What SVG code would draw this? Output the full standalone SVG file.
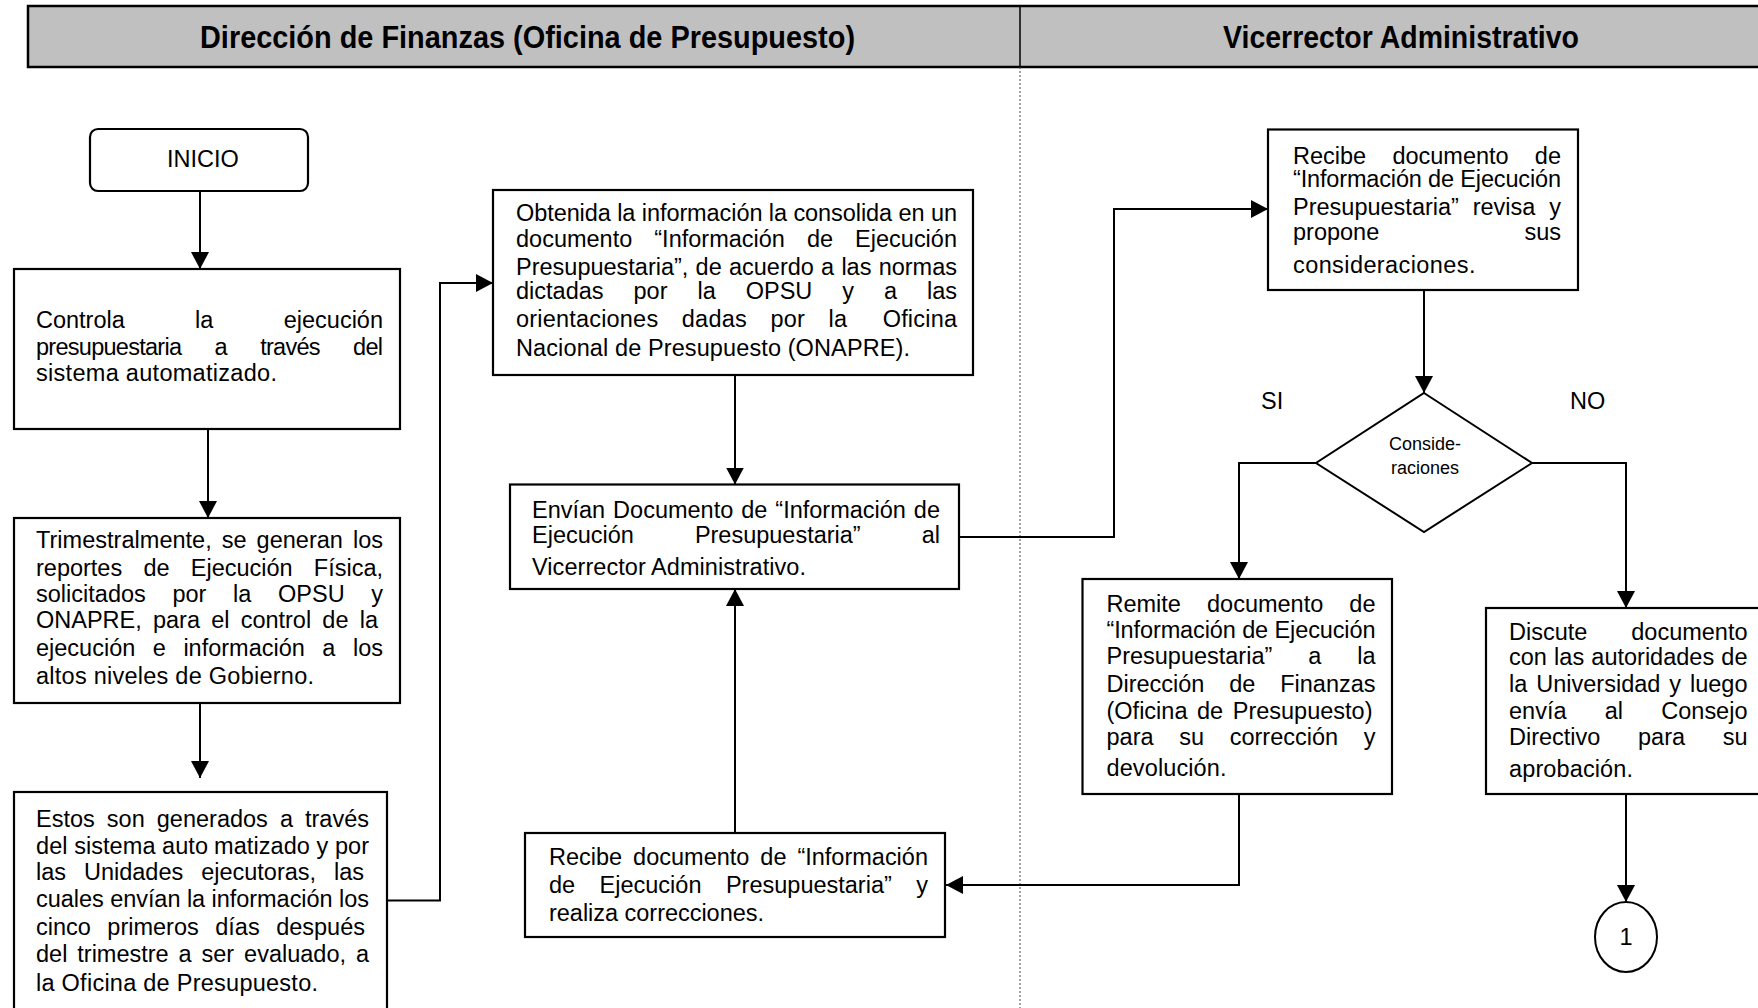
<svg xmlns="http://www.w3.org/2000/svg" width="1758" height="1008" viewBox="0 0 1758 1008">
  <style>
    .box { fill: #ffffff; stroke: #000000; stroke-width: 2.2; }
    .t { font-family: "Liberation Sans", Arial, sans-serif; font-size: 23.5px; fill: #000000; }
    .small { font-family: "Liberation Sans", Arial, sans-serif; font-size: 18px; fill: #000000; }
    .hdr { font-family: "Liberation Sans", Arial, sans-serif; font-size: 31px; font-weight: bold; fill: #000000; }
    .conn { fill: none; stroke: #000000; stroke-width: 2; }
    .lane { stroke: #444444; stroke-width: 1; stroke-dasharray: 2 2; }
  </style>
  <defs>
    <marker id="arr" markerUnits="userSpaceOnUse" markerWidth="17" markerHeight="18" viewBox="0 0 17 18" refX="17" refY="9" orient="auto">
      <path d="M0,0 L17,9 L0,18 z" fill="#000000"/>
    </marker>
  </defs>

  <rect width="1758" height="1008" fill="#ffffff"/>

  <!-- swimlane header -->
  <g id="header">
    <rect x="28" y="6" width="1745" height="61" fill="#c0c0c0" stroke="#000000" stroke-width="2.5"/>
    <line x1="1020" y1="6" x2="1020" y2="67" stroke="#000000" stroke-width="1.5"/>
    <text class="hdr" x="200" y="47.5" textLength="655" lengthAdjust="spacingAndGlyphs">Dirección de Finanzas (Oficina de Presupuesto)</text>
    <text class="hdr" x="1223" y="47.5" textLength="356" lengthAdjust="spacingAndGlyphs">Vicerrector Administrativo</text>
  </g>
  <line class="lane" x1="1020" y1="67" x2="1020" y2="1008"/>

  <!-- connectors -->
  <g id="connectors">
    <path class="conn" d="M200,191 V269" marker-end="url(#arr)"/>
    <path class="conn" d="M208,429 V518" marker-end="url(#arr)"/>
    <path class="conn" d="M200,703 V778" marker-end="url(#arr)"/>
    <path class="conn" d="M387,900.5 H440 V283 H493" marker-end="url(#arr)"/>
    <path class="conn" d="M735,375 V484.5" marker-end="url(#arr)"/>
    <path class="conn" d="M959,537 H1114 V209 H1268" marker-end="url(#arr)"/>
    <path class="conn" d="M1424,290 V393" marker-end="url(#arr)"/>
    <path class="conn" d="M1316,463 H1239 V579" marker-end="url(#arr)"/>
    <path class="conn" d="M1532,463 H1626 V608" marker-end="url(#arr)"/>
    <path class="conn" d="M1239,794 V885 H946" marker-end="url(#arr)"/>
    <path class="conn" d="M735,833 V589" marker-end="url(#arr)"/>
    <path class="conn" d="M1626,794 V902" marker-end="url(#arr)"/>
  </g>

  <!-- Dirección de Finanzas lane -->
  <g id="inicio">
    <rect class="box" x="90" y="129" width="218" height="62" rx="8"/>
    <text class="t" x="203" y="166.5" text-anchor="middle">INICIO</text>
  </g>

  <g id="controla">
    <rect class="box" x="14" y="269" width="386" height="160"/>
    <text class="t" x="36" y="328" textLength="347" lengthAdjust="spacing" word-spacing="63.8">Controla la ejecución</text>
    <text class="t" x="36" y="354.5" textLength="347" lengthAdjust="spacing" word-spacing="27.5">presupuestaria a través del</text>
    <text class="t" x="36" y="381" textLength="241" lengthAdjust="spacing">sistema automatizado.</text>
  </g>

  <g id="trimestral">
    <rect class="box" x="14" y="518" width="386" height="185"/>
    <text class="t" x="36" y="548" textLength="347" lengthAdjust="spacing" word-spacing="3.4">Trimestralmente, se generan los</text>
    <text class="t" x="36" y="575.5" textLength="347" lengthAdjust="spacing" word-spacing="14.7">reportes de Ejecución Física,</text>
    <text class="t" x="36" y="601.5" textLength="347" lengthAdjust="spacing" word-spacing="20.1">solicitados por la OPSU y</text>
    <text class="t" x="36" y="628" textLength="342" lengthAdjust="spacing" word-spacing="4.7">ONAPRE, para el control de la</text>
    <text class="t" x="36" y="656" textLength="347" lengthAdjust="spacing" word-spacing="11">ejecución e información a los</text>
    <text class="t" x="36" y="684" textLength="278" lengthAdjust="spacing">altos niveles de Gobierno.</text>
  </g>

  <g id="estos">
    <rect class="box" x="14" y="792" width="373" height="240"/>
    <text class="t" x="36" y="827" textLength="333" lengthAdjust="spacing" word-spacing="5.5">Estos son generados a través</text>
    <text class="t" x="36" y="854" textLength="333" lengthAdjust="spacing">del sistema auto<tspan dx="6">matizado y por</tspan></text>
    <text class="t" x="36" y="880" textLength="328" lengthAdjust="spacing" word-spacing="11.4">las Unidades ejecutoras, las</text>
    <text class="t" x="36" y="907" textLength="333" lengthAdjust="spacing">cuales envían la información los</text>
    <text class="t" x="36" y="934.5" textLength="329" lengthAdjust="spacing" word-spacing="10">cinco primeros días después</text>
    <text class="t" x="36" y="962" textLength="333" lengthAdjust="spacing" word-spacing="3.4">del trimestre a ser evaluado, a</text>
    <text class="t" x="36" y="991" textLength="282" lengthAdjust="spacing">la Oficina de Presupuesto.</text>
  </g>

  <g id="consolida">
    <rect class="box" x="493" y="190" width="480" height="185"/>
    <text class="t" x="516" y="220.5" textLength="441" lengthAdjust="spacing">Obtenida la información la consolida en un</text>
    <text class="t" x="516" y="247" textLength="441" lengthAdjust="spacing" word-spacing="15.5">documento “Información de Ejecución</text>
    <text class="t" x="516" y="275" textLength="441" lengthAdjust="spacing" word-spacing="0.7">Presupuestaria”, de acuerdo a las normas</text>
    <text class="t" x="516" y="299" textLength="441" lengthAdjust="spacing" word-spacing="23.4">dictadas por la OPSU y a las</text>
    <text class="t" x="516" y="327" textLength="441" lengthAdjust="spacing" word-spacing="16.8">orientaciones dadas por la<tspan dx="12"> Oficina</tspan></text>
    <text class="t" x="516" y="356" textLength="394" lengthAdjust="spacing">Nacional de Presupuesto (ONAPRE).</text>
  </g>

  <g id="envian">
    <rect class="box" x="510" y="484.5" width="449" height="104.5"/>
    <text class="t" x="532" y="518" textLength="408" lengthAdjust="spacing" word-spacing="1.4">Envían Documento de “Información de</text>
    <text class="t" x="532" y="543" textLength="408" lengthAdjust="spacing" word-spacing="54.5">Ejecución Presupuestaria” al</text>
    <text class="t" x="532" y="574.5" textLength="274" lengthAdjust="spacing">Vicerrector Administrativo.</text>
  </g>

  <g id="corrige">
    <rect class="box" x="525" y="833" width="420" height="104"/>
    <text class="t" x="549" y="865" textLength="379" lengthAdjust="spacing" word-spacing="4.4">Recibe documento de “Información</text>
    <text class="t" x="549" y="893" textLength="379" lengthAdjust="spacing" word-spacing="17.9">de Ejecución Presupuestaria” y</text>
    <text class="t" x="549" y="921" textLength="215" lengthAdjust="spacing">realiza correcciones.</text>
  </g>

  <!-- Vicerrector Administrativo lane -->
  <g id="revisa">
    <rect class="box" x="1268" y="129.5" width="310" height="160.5"/>
    <text class="t" x="1293" y="164" textLength="268" lengthAdjust="spacing" word-spacing="19.7">Recibe documento de</text>
    <text class="t" x="1293" y="187" textLength="268" lengthAdjust="spacing">“Información de Ejecución</text>
    <text class="t" x="1293" y="214.5" textLength="268" lengthAdjust="spacing" word-spacing="7.3">Presupuestaria” revisa y</text>
    <text class="t" x="1293" y="240" textLength="268" lengthAdjust="spacing" word-spacing="138.7">propone sus</text>
    <text class="t" x="1293" y="272.5" textLength="182.5" lengthAdjust="spacing">consideraciones.</text>
  </g>

  <g id="decision">
    <polygon points="1424,393 1532,463 1424,532 1316,463" fill="#ffffff" stroke="#000000" stroke-width="2"/>
    <text class="small" x="1425" y="450" text-anchor="middle">Conside-</text>
    <text class="small" x="1425" y="474" text-anchor="middle">raciones</text>
    <text class="t" x="1261" y="409">SI</text>
    <text class="t" x="1570" y="409">NO</text>
  </g>

  <g id="remite">
    <rect class="box" x="1082.5" y="579" width="309.5" height="215"/>
    <text class="t" x="1106.5" y="611.5" textLength="269" lengthAdjust="spacing" word-spacing="19.6">Remite documento de</text>
    <text class="t" x="1106.5" y="638" textLength="269" lengthAdjust="spacing">“Información de Ejecución</text>
    <text class="t" x="1106.5" y="663.5" textLength="269" lengthAdjust="spacing" word-spacing="29.4">Presupuestaria” a la</text>
    <text class="t" x="1106.5" y="691.5" textLength="269" lengthAdjust="spacing" word-spacing="18.3">Dirección de Finanzas</text>
    <text class="t" x="1106.5" y="719" textLength="266" lengthAdjust="spacing" word-spacing="3">(Oficina de Presupuesto)</text>
    <text class="t" x="1106.5" y="745" textLength="269" lengthAdjust="spacing" word-spacing="19.1">para su corrección y</text>
    <text class="t" x="1106.5" y="775.5" textLength="120" lengthAdjust="spacing">devolución.</text>
  </g>

  <g id="discute">
    <rect class="box" x="1486" y="608" width="290" height="186"/>
    <text class="t" x="1509" y="639.5" textLength="238.5" lengthAdjust="spacing" word-spacing="37.4">Discute documento</text>
    <text class="t" x="1509" y="665" textLength="238.5" lengthAdjust="spacing" word-spacing="0.7">con las autoridades de</text>
    <text class="t" x="1509" y="692" textLength="238.5" lengthAdjust="spacing" word-spacing="2.4">la Universidad y luego</text>
    <text class="t" x="1509" y="719" textLength="238.5" lengthAdjust="spacing" word-spacing="31.7">envía al Consejo</text>
    <text class="t" x="1509" y="745" textLength="238.5" lengthAdjust="spacing" word-spacing="31.1">Directivo para su</text>
    <text class="t" x="1509" y="777" textLength="124" lengthAdjust="spacing">aprobación.</text>
  </g>

  <g id="conector-1">
    <ellipse cx="1626" cy="937" rx="31" ry="35" fill="#ffffff" stroke="#000000" stroke-width="2"/>
    <text class="t" x="1626" y="945" text-anchor="middle">1</text>
  </g>
</svg>
